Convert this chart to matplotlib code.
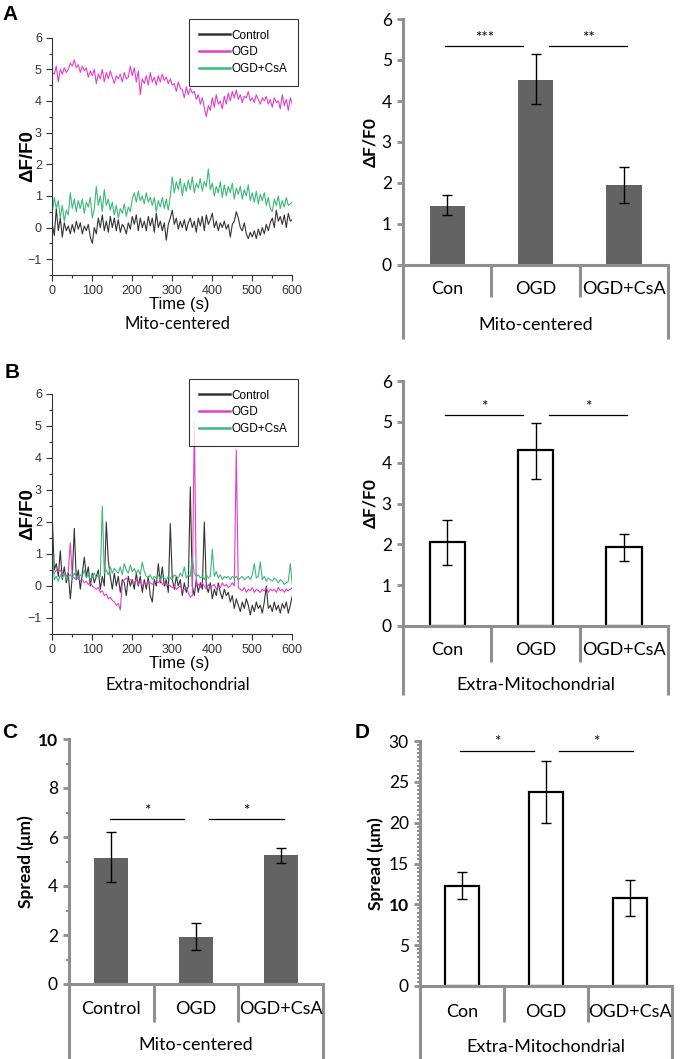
import numpy as np
import matplotlib
matplotlib.use("Agg")
import matplotlib.pyplot as plt
from matplotlib.ticker import MultipleLocator
from matplotlib.transforms import blended_transform_factory

# ---- data: traces (dF/F0 sampled every 5 s) ----
step = 5
a_ctrl = [0.1, -0.25, 0.6, -0.1, 0.3, -0.3, 0.15, -0.1, 0.05, -0.2,
          0.1, -0.15, 0.2, -0.05, 0.15, -0.2, 0.05, -0.1, 0.1, -0.3,
          -0.5, 0.0, -0.2, 0.3, 0.0, 0.4, -0.1, 0.2, -0.15, 0.35,
          0.0, 0.3, -0.1, 0.25, -0.15, 0.1, 0.0, -0.2, 0.15, -0.05,
          0.35, 0.1, 0.4, -0.1, 0.3, 0.0, 0.2, -0.1, 0.35, 0.05,
          0.3, -0.15, 0.45, 0.0, 0.2, -0.1, 0.15, -0.4, 0.1, 0.3,
          0.55, 0.1, 0.3, -0.05, 0.2, 0.0, 0.25, -0.1, 0.15, 0.3,
          0.0, 0.2, -0.15, 0.3, 0.05, 0.35, -0.1, 0.4, 0.1, 0.25,
          0.45, 0.0, 0.2, -0.1, 0.15, 0.0, 0.2, -0.05, 0.1, -0.3,
          0.1, 0.2, 0.5, 0.3, 0.0, -0.1, 0.15, -0.2, -0.35, -0.15,
          -0.3, -0.1, -0.35, -0.05, -0.25, 0.0, -0.2, 0.1, -0.1, 0.15,
          0.3, 0.0, 0.55, 0.2, 0.35, 0.1, 0.4, 0.0, 0.45, 0.2, 0.25]
a_ogd = [4.9, 4.85, 5.1, 4.6, 5.0, 4.85, 5.05, 4.9, 5.0, 5.2,
         5.1, 5.3, 5.05, 5.15, 4.9, 5.1, 4.95, 5.05, 4.75, 4.95,
         4.8, 5.0, 4.55, 4.85, 4.7, 5.0, 4.6, 4.9, 4.7, 4.95,
         4.75, 4.55, 4.8, 4.7, 4.85, 4.6, 4.9, 4.7, 4.75, 5.1,
         4.8, 5.05, 4.6, 4.95, 4.2, 4.7, 4.55, 4.8, 4.5, 4.9,
         4.6, 4.75, 4.5, 4.8, 4.6, 4.85, 4.65, 4.75, 4.55, 4.7,
         4.5, 4.55, 4.3, 4.6, 4.4, 4.35, 4.1, 4.45, 4.2, 4.4,
         4.25, 4.3, 4.05, 4.2, 3.9, 4.1, 3.8, 3.5, 3.85, 3.7,
         4.1, 3.8, 4.2, 3.9, 4.0, 3.75, 4.15, 3.9, 4.25, 4.0,
         4.3, 4.1, 4.35, 4.05, 4.2, 3.95, 4.15, 4.1, 4.3, 4.0,
         4.1, 3.95, 4.2, 4.05, 3.9, 4.1, 4.0, 4.15, 3.9, 4.05,
         3.8, 4.1, 3.95, 4.0, 3.75, 4.2, 3.85, 4.05, 3.7, 4.1, 3.9]
a_csa = [0.5, 0.95, 0.6, 0.85, 0.3, 0.7, 0.2, 0.55, 0.4, 1.1,
         0.6, 0.9, 0.5, 0.85, 0.6, 0.9, 0.45, 0.8, 0.65, 0.95,
         0.3, 0.6, 1.3, 0.7, 1.0, 0.5, 1.2, 0.7, 0.9, 0.55,
         0.8, 0.4, 0.7, 0.3, 0.6, 0.45, 0.75, 0.35, 0.65, 0.5,
         0.9, 1.1, 0.8, 1.15, 0.85, 1.0, 0.75, 1.1, 0.8, 0.95,
         0.7, 0.95, 0.5, 0.85, 0.65, 0.95, 0.6, 0.9, 0.55, 1.0,
         1.6, 1.1, 1.45, 1.2, 1.55, 1.0, 1.4, 1.15, 1.5, 1.2,
         1.6, 1.1, 1.4, 1.25, 1.55, 1.15, 1.45, 1.3, 1.85, 1.2,
         1.4, 1.0, 1.3, 1.1, 1.45, 0.95, 1.35, 1.0, 1.3, 1.1,
         1.4, 0.9, 1.25, 1.05, 1.3, 0.9, 1.2, 1.0, 1.35, 0.85,
         1.1, 0.8, 1.15, 0.75, 1.05, 0.85, 1.1, 0.7, 0.95, 0.6,
         0.5, 0.9, 0.7, 1.0, 0.6, 0.85, 0.65, 0.95, 0.7, 0.75, 0.8]

b_ctrl = [2.1, 0.5, 0.7, 0.3, 1.1, 0.2, 0.6, 0.1, 0.4, -0.4,
          0.3, 1.8, 0.2, 0.5, -0.1, 0.4, 0.9, 0.3, 0.6, 0.0,
          0.4, 0.1, 0.3, 0.5, -0.1, 0.3, 0.0, 2.0, 0.8, 0.3,
          -0.1, 0.4, 0.0, 0.3, -0.2, 0.2, 0.1, -0.3, 0.3, 0.0,
          0.2, -0.1, 0.4, 0.0, 0.3, -0.2, 0.2, -0.1, 0.3, -0.3,
          -0.5, 0.2, 0.0, 0.7, 0.1, 0.6, 0.0, 0.2, -0.2, 1.95,
          0.2, -0.1, 0.3, 0.0, 0.2, -0.3, 0.1, -0.2, 0.0, 3.1,
          0.0, -0.3, 0.2, -0.2, 0.1, -0.1, 2.0, 0.0, -0.2, 0.1,
          -0.4, -0.1, -0.3, 0.1, -0.2, -0.4, -0.1, -0.3, -0.2, -0.5,
          -0.3, -0.7, -0.4, -0.6, -0.8, -0.5, -0.7, -0.4, -0.6, -0.9,
          -0.6, -0.8, -0.5, -0.7, -0.6, -0.85, -0.5, 0.0, -0.7, -0.6,
          -0.8, -0.5, -0.75, -0.6, -0.85, -0.55, -0.7, -0.5, -0.85, -0.6, -0.3]
b_ogd = [0.45, 0.4, 0.5, 0.45, 0.5, 0.35, 0.4, 0.3, 0.45, 1.35,
         0.3, 0.25, 0.2, 0.3, 0.15, 0.2, 0.1, 0.15, 0.05, 0.1,
         0.0, -0.05, -0.1, -0.05, -0.2, -0.15, -0.3, -0.25, -0.4, -0.35,
         -0.45, -0.5, -0.6, -0.55, -0.75, 0.1, 0.2, 0.25, 0.15, 0.2,
         0.15, 0.1, 0.2, 0.05, 0.15, 0.0, 0.1, 0.05, 0.15, 0.1,
         0.05, 0.1, 0.15, 0.1, 0.2, 0.05, 0.1, 0.0, 0.05, 0.0,
         -0.05, 0.0, -0.1, -0.05, 0.0, -0.15, -0.1, -0.05, -0.2, -0.35,
         -0.3, 5.1, 0.0, 0.05, -0.05, 0.1, 0.0, -0.1, 0.05, -0.05,
         0.0, 0.05, -0.1, 0.0, -0.05, 0.1, 0.0, 0.05, -0.05, 0.0,
         0.1, 0.0, 4.25, -0.05, -0.1, -0.15, -0.05, -0.2, -0.1, -0.15,
         -0.05, -0.2, -0.1, -0.15, -0.2, -0.1, -0.15, -0.05, -0.2, -0.1,
         -0.15, -0.1, -0.2, -0.05, -0.15, -0.1, -0.2, -0.1, -0.15, -0.1, -0.05]
b_csa = [1.15, 0.2, 0.3, 0.15, 0.35, 0.25, 0.4, 0.2, 0.3, 0.35,
         0.25, 0.4, 0.3, 0.2, 0.35, 0.3, 0.5, 0.25, 0.35, 0.2,
         0.3, 0.4, 0.25, 0.35, 0.3, 2.5, 0.4, 0.5, 0.35, 0.6,
         0.4, 0.55, 0.45, 0.4, 0.6, 0.35, 0.7, 0.5, 0.4, 0.65,
         0.45, 0.55, 0.4, 0.5, 0.35, 0.75, 0.45, 0.3, 0.25, 0.35,
         0.2, 0.3, 0.25, 0.35, 0.2, 0.3, 0.25, 0.2, 0.3, 0.25,
         0.2, 0.35, 0.3, 0.25, 0.4, 0.3, 0.6, 0.25, 0.35, 0.3,
         0.9, 0.4, 0.3, 0.35, 0.25, 0.3, 0.2, 0.35, 0.25, 0.3,
         1.15, 0.3, 0.45, 0.25, 0.35, 0.2, 0.3, 0.25, 0.3, 0.2,
         0.3, 0.25, 0.3, 0.2, 0.25, 0.3, 0.2, 0.25, 0.3, 0.2,
         0.35, 0.7, 0.25, 0.3, 0.75, 0.2, 0.3, 0.15, 0.25, 0.2,
         0.15, 0.25, 0.2, 0.1, 0.2, 0.15, 0.05, 0.1, 0.15, 0.7, 0.05]

# ---- data: bar charts (mean, lower / upper error ends) ----
groups = ["Con", "OGD", "OGD+CsA"]
groups_c = ["Control", "OGD", "OGD+CsA"]

a_mean = [1.45, 4.52, 1.95]
a_lo = [1.23, 3.92, 1.52]
a_hi = [1.70, 5.15, 2.38]
a_stars = ["***", "**"]

b_mean = [2.05, 4.30, 1.93]
b_lo = [1.50, 3.60, 1.60]
b_hi = [2.60, 4.98, 2.25]
b_stars = ["*", "*"]

c_mean = [5.15, 1.93, 5.25]
c_lo = [4.15, 1.40, 4.95]
c_hi = [6.20, 2.50, 5.55]
c_stars = ["*", "*"]

d_mean = [12.3, 23.8, 10.8]
d_lo = [10.6, 19.9, 8.6]
d_hi = [13.9, 27.5, 13.0]
d_stars = ["*", "*"]

W, H = 681, 1059
fig = plt.figure(figsize=(W / 100, H / 100), dpi=100)

GREY = "#8f8f8f"
MAG = "#e040c8"
GRN = "#3cb878"
CTL = "#333333"
ARIAL = ["Liberation Sans Narrow", "Liberation Sans", "DejaVu Sans"]
CAL = ["Lato", "DejaVu Sans"]


def rect(x0, x1, ytop, ybot):
    # pixel box -> figure fraction
    return [x0 / W, 1 - ybot / H, (x1 - x0) / W, (ybot - ytop) / H]


def trace_panel(box, ctrl, ogd, csa, sub, sub_y, leg_xy):
    ax = fig.add_axes(box)
    ax.plot(np.arange(len(ctrl)) * step, ctrl, color=CTL, lw=0.8, label="Control")
    ax.plot(np.arange(len(ogd)) * step, ogd, color=MAG, lw=0.8, label="OGD")
    ax.plot(np.arange(len(csa)) * step, csa, color=GRN, lw=0.8, label="OGD+CsA")
    ax.set_xlim(0, 600)
    ax.set_ylim(-1.5, 6)
    ax.set_yticks(range(-1, 7))
    ax.xaxis.set_major_locator(MultipleLocator(100))
    ax.xaxis.set_minor_locator(MultipleLocator(50))
    ax.yaxis.set_minor_locator(MultipleLocator(0.5))
    for s in ["top", "right"]:
        ax.spines[s].set_visible(False)
    for s in ["left", "bottom"]:
        ax.spines[s].set_color(CTL)
        ax.spines[s].set_linewidth(0.8)
    ax.tick_params(which="both", direction="out", colors=CTL, width=0.8)
    ax.tick_params(which="major", length=4, labelsize=9)
    ax.tick_params(which="minor", length=2)
    for lab in ax.get_xticklabels() + ax.get_yticklabels():
        lab.set_family(ARIAL)
    ax.set_ylabel("ΔF/F0", fontsize=13.5, fontweight="bold", family=ARIAL)
    ax.yaxis.set_label_coords(-0.068, 0.5)
    ax.set_xlabel("Time (s)", fontsize=12, family=ARIAL)
    ax.xaxis.set_label_coords(0.53, -0.093)
    fig.text(0.5 * (box[0] * 2 + box[2]) + 0.008, 1 - sub_y / H, sub,
             fontsize=12, family=CAL, ha="center", va="center")
    leg = ax.legend(loc="upper right", bbox_to_anchor=(leg_xy[0] / W, 1 - leg_xy[1] / H),
                    bbox_transform=fig.transFigure, frameon=True, fancybox=False,
                    edgecolor="black", handlelength=2.6,
                    borderpad=0.9, labelspacing=0.4, handletextpad=0.15,
                    prop={"family": ARIAL, "size": 8.5})
    leg.get_frame().set_linewidth(0.8)
    for ln in leg.get_lines():
        ln.set_linewidth(1.8)
    return ax


def bar_panel(box, labels, mean, lo, hi, ymax, major, minor, face, edge,
              ylabel, group, stars, sig_y, sep, outer, cat_y, grp_y, bold10=False):
    ax = fig.add_axes(box)
    x = np.arange(len(mean))
    err = [np.subtract(mean, lo), np.subtract(hi, mean)]
    ax.bar(x, mean, width=0.4, color=face, edgecolor=edge,
           linewidth=1.6 if edge != face else 0, yerr=err, capsize=3.5,
           error_kw=dict(elinewidth=1, capthick=1, ecolor="black"), zorder=2)
    ax.set_xlim(-0.5, 2.5)
    ax.set_ylim(0, ymax)
    ax.set_xticks([])
    ax.yaxis.set_major_locator(MultipleLocator(major))
    if minor:
        ax.yaxis.set_minor_locator(MultipleLocator(minor))
    for s in ["top", "right"]:
        ax.spines[s].set_visible(False)
    for s in ["left", "bottom"]:
        ax.spines[s].set_color(GREY)
        ax.spines[s].set_linewidth(2.2)
    ax.tick_params(axis="y", which="major", direction="out", length=4, width=2,
                   color=GREY, labelsize=12.5, pad=4)
    ax.tick_params(axis="y", which="minor", direction="out", length=2, width=1.5, color=GREY)
    for lab in ax.get_yticklabels():
        lab.set_family(CAL)
        if bold10 and lab.get_text() == "10":
            lab.set_fontweight("bold")
    ax.set_ylabel(ylabel, fontsize=12.5, fontweight="bold", family=CAL)
    tr = blended_transform_factory(ax.transData, ax.transAxes)
    for xx in [-0.5, 2.5]:
        ax.plot([xx, xx], [0, outer], transform=tr, color=GREY, lw=2.2,
                clip_on=False, solid_capstyle="butt")
    for xx in [0.5, 1.5]:
        ax.plot([xx, xx], [0, sep], transform=tr, color=GREY, lw=2.2,
                clip_on=False, solid_capstyle="butt")
    for xx, lab in zip(x, labels):
        ax.text(xx, cat_y, lab, transform=tr, ha="center", va="center",
                fontsize=13, family=CAL)
    ax.text(1, grp_y, group, transform=tr, ha="center", va="center",
            fontsize=13, family=CAL)
    for (x0, x1), s in zip([(-0.02, 0.86), (1.15, 2.04)], stars):
        ax.plot([x0, x1], [sig_y, sig_y], color="black", lw=0.9)
        ax.annotate(s, ((x0 + x1) / 2, sig_y), xytext=(0, 1), textcoords="offset points",
                    ha="center", va="bottom", fontsize=11, family=CAL)
    return ax


# A
trace_panel(rect(52.3, 292.3, 37.7, 275), a_ctrl, a_ogd, a_csa,
            "Mito-centered", 324, (304, 13))
axa = bar_panel(rect(403, 668, 19, 265), groups, a_mean, a_lo, a_hi, 6, 1, None,
                "#636363", "#636363", "ΔF/F0", "Mito-centered", a_stars, 5.34,
                -0.13, -0.30, -0.098, -0.245)
axa.yaxis.set_label_coords(-0.094, 0.5)

# B
trace_panel(rect(52.3, 292.3, 394, 634), b_ctrl, b_ogd, b_csa,
            "Extra-mitochondrial", 685, (304, 373))
axb = bar_panel(rect(403, 668, 381, 626), groups, b_mean, b_lo, b_hi, 6, 1, None,
                "white", "black", "ΔF/F0", "Extra-Mitochondrial", b_stars, 5.16,
                -0.147, -0.28, -0.098, -0.24)
axb.yaxis.set_label_coords(-0.094, 0.5)

# C
axc = bar_panel(rect(69, 323, 739, 984), groups_c, c_mean, c_lo, c_hi, 10, 2, 1,
                "#636363", "#636363", "Spread (μm)", "Mito-centered", c_stars, 6.73,
                -0.155, -0.31, -0.102, -0.249, bold10=True)
axc.yaxis.set_label_coords(-0.138, 0.5)

# D
axd = bar_panel(rect(420, 672, 741, 986), groups, d_mean, d_lo, d_hi, 30, 5, 0.5,
                "white", "black", "Spread (μm)", "Extra-Mitochondrial", d_stars, 28.8,
                -0.147, -0.31, -0.106, -0.249, bold10=True)
axd.yaxis.set_label_coords(-0.142, 0.5)

# panel letters
for lab, (px, py) in zip("ABCD", [(10, 15), (12, 373), (10, 733), (362, 733)]):
    fig.text(px / W, 1 - py / H, lab, fontsize=15, fontweight="bold",
             family=["Liberation Sans", "DejaVu Sans"], ha="center", va="center")

fig.savefig("out.png", dpi=100)
